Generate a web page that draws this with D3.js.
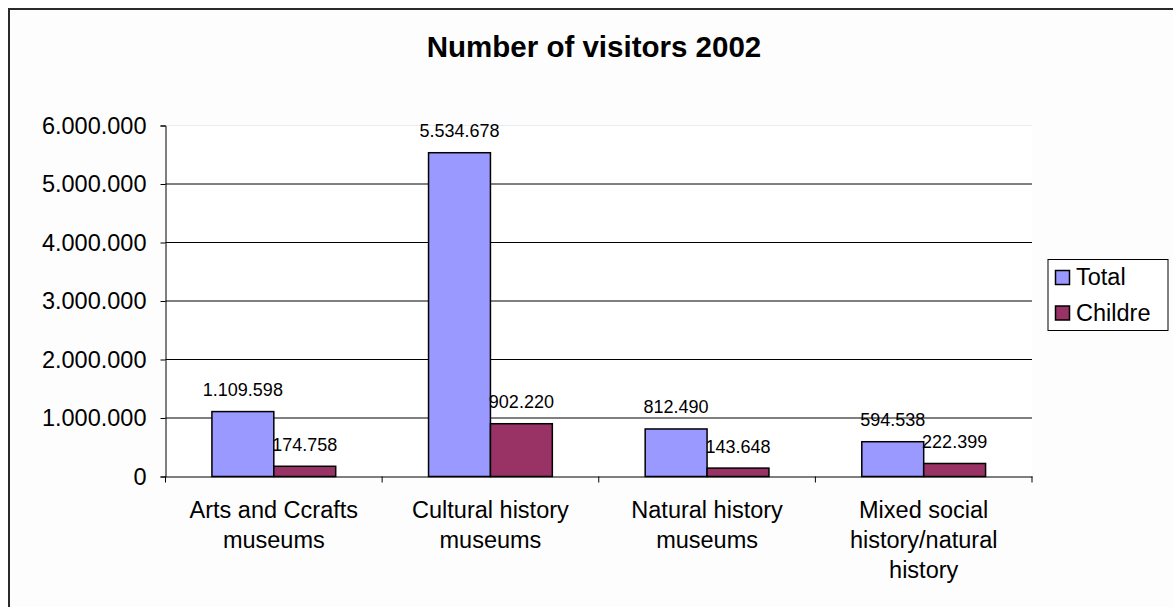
<!DOCTYPE html>
<html><head><meta charset="utf-8">
<script src="https://cdn.jsdelivr.net/npm/d3@7"></script>
<style>body{margin:0;background:#fff;}svg{display:block;font-family:"Liberation Sans",Arial,sans-serif;}</style>
</head><body>
<script>
const title = "Number of visitors 2002";
const categories = ["Arts and Ccrafts\nmuseums", "Cultural history\nmuseums", "Natural history\nmuseums", "Mixed social\nhistory/natural\nhistory"];
const seriesNames = ["Total", "Childre"];
const totalValues = [1109598, 5534678, 812490, 594538];
const childrenValues = [174758, 902220, 143648, 222399];
const colors = ["#9999FF", "#993366"];
const yTicks = [0, 1000000, 2000000, 3000000, 4000000, 5000000, 6000000];

(function () {
const W = 1173, H = 607;
const fmt = v => d3.format(",")(v).replace(/,/g, ".");
const svg = d3.select("body").append("svg").attr("width", W).attr("height", H);

svg.append("rect").attr("x", 9).attr("y", 9).attr("width", 1300).attr("height", 800)
  .attr("fill", "#fdfdfd").attr("stroke", "#2a2a2a").attr("stroke-width", 2);

svg.append("text").attr("x", 594).attr("y", 57).attr("text-anchor", "middle")
  .attr("font-size", 29.5).attr("font-weight", "bold").text(title);

const pLeft = 165.5, pRight = 1032, pTop = 125.5, pBottom = 476.5;
const x = d3.scaleBand().domain(categories).range([pLeft, pRight]).paddingInner(0).paddingOuter(0);
const y = d3.scaleLinear().domain([0, 6000000]).range([pBottom, pTop]);

svg.append("rect").attr("x", pLeft).attr("y", pTop).attr("width", pRight - pLeft).attr("height", pBottom - pTop).attr("fill", "#fff");

// gridlines
svg.append("g").selectAll("line").data(yTicks.filter(d => d > 0)).join("line")
  .attr("x1", pLeft).attr("x2", pRight).attr("y1", d => y(d)).attr("y2", d => y(d))
  .attr("stroke", d => d === 6000000 ? "#ececec" : "#000").attr("stroke-width", 1);

// y axis
const yAxis = svg.append("g").attr("transform", `translate(${pLeft},0)`)
  .call(d3.axisLeft(y).tickValues(yTicks).tickSize(5).tickPadding(14).tickFormat(fmt));
yAxis.selectAll("text").attr("font-size", 23.5).attr("fill", "#000").attr("font-family", "Liberation Sans, Arial, sans-serif");
yAxis.selectAll("line,path").attr("stroke", "#000");

// bars
const inner = d3.scaleBand().domain(seriesNames).range([0, x.bandwidth()]).paddingInner(0).paddingOuter(0.75);
const series = [totalValues, childrenValues];
const g = svg.append("g");
series.forEach((vals, si) => {
  g.selectAll(null).data(vals).join("rect")
    .attr("x", (d, i) => x(categories[i]) + inner(seriesNames[si]))
    .attr("y", d => y(d)).attr("width", inner.bandwidth()).attr("height", d => y(0) - y(d))
    .attr("fill", colors[si]).attr("stroke", "#000").attr("stroke-width", 1.5);
  g.selectAll(null).data(vals).join("text")
    .attr("x", (d, i) => x(categories[i]) + inner(seriesNames[si]) + inner.bandwidth() / 2)
    .attr("y", d => y(d) - 15.5).attr("text-anchor", "middle").attr("font-size", 18)
    .text(fmt);
});

// x axis
const xAxis = svg.append("g").attr("transform", `translate(0,${pBottom})`)
  .call(d3.axisBottom(x).tickSize(0).tickFormat(""));
xAxis.select("path").attr("stroke", "#000");
xAxis.selectAll(".tick").remove();
svg.append("g").selectAll("line").data(categories.map(c => x(c)).concat([pRight])).join("line")
  .attr("x1", d => d).attr("x2", d => d).attr("y1", pBottom).attr("y2", pBottom + 6).attr("stroke", "#000");

const labels = svg.append("g").selectAll("text").data(categories).join("text")
  .attr("x", d => x(d) + x.bandwidth() / 2).attr("y", 518).attr("text-anchor", "middle").attr("font-size", 23.5);
labels.each(function(d) {
  const t = d3.select(this);
  d.split("\n").forEach((line, i) => {
    t.append("tspan").attr("x", x(d) + x.bandwidth() / 2).attr("dy", i === 0 ? 0 : 30).text(line);
  });
});

// legend
const lg = svg.append("g");
lg.append("rect").attr("x", 1048).attr("y", 259.5).attr("width", 120).attr("height", 71)
  .attr("fill", "#fff").attr("stroke", "#000").attr("stroke-width", 1);
seriesNames.forEach((s, i) => {
  lg.append("rect").attr("x", 1055.5).attr("y", 270.5 + i * 35.5).attr("width", 14).attr("height", 14)
    .attr("fill", colors[i]).attr("stroke", "#000").attr("stroke-width", 1.5);
  lg.append("text").attr("x", 1076).attr("y", 285 + i * 36).attr("font-size", 23.5).text(s);
});
})();
</script>
</body></html>
